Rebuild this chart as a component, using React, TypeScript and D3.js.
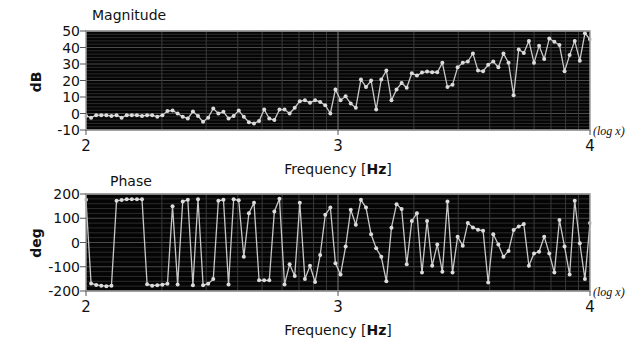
import React from "react";
import * as d3 from "d3";

// log10(frequency) sampling: 100 points evenly spaced from 2 to 4
const LOG_START = 2;
const LOG_END = 4;

const magnitudeDb = [
  -1.5, -2.5, -1, -1, -1, -1.5, -1, -2.5, -1, -1, -1, -1.5, -1, -1, -2, -1,
  1.5, 1.8, 0, -2, -3, 1.2, -1.5, -5, -2.5, 3, 0, 1, -3, -1.5, 1.8, -2, -5.3, -6, -4.5,
  2.4, -3, -4, 2.4, 2.4, 0, 3.5, 7.5, 8, 6.5,
  8, 7, 5, 0, 14.6, 8, 10.4, 6, 3.5, 20.6,
  16, 20, 2.4, 20.6, 26, 8, 14.6, 18.5, 15.6, 24.4,
  23, 24.8, 25.4, 25, 25, 30.7, 16, 17.5, 28, 30.7,
  31.5, 36.4, 26, 25.6, 29.5, 31.5, 28, 36.4, 30.7, 11,
  38.8, 36.6, 44, 30.7, 41, 33, 45.5, 43.5, 41.5, 25.6,
  35.4, 44, 32, 48.6, 45,
];

const phaseDeg = [
  176,
  -169, -175, -178, -180, -178,
  172, 175, 178, 178, 178, 178,
  -172, -178, -176, -174, -170,
  149, -173, 169, 176, -176, 178, -176, -170, -151, 172, 176, -173, 178, 174,
  -59, 121, 164,
  -156, -156, -156,
  128, 180, -173, -90, -138, 164, -151, -96, -163, -52,
  114, 144, -86, -132, -17, 135, 73, 176, 144, 34,
  -24, -59, -160, 61, 158, 138, -90, 89, 121, -124,
  89, -96, -8, -121, 169, -124, 24, -13, 80, 62,
  53, 48, -165, 34, -8, -59, -35, 52, 66, 76,
  -96, -45, -38, 24, -45, -124, 93, -17, -132, 172,
  -3, -151, 80,
];

const xTicks = [2, 3, 4];
const magTicks = [50, 40, 30, 20, 10, 0, -10];
const phaseTicks = [200, 100, 0, -100, -200];

const FONT = "DejaVu Sans, sans-serif";
const X0 = 86;
const X1 = 590;

const xScale = d3.scaleLinear().domain([LOG_START, LOG_END]).range([X0, X1]);

const logGrid: number[] = [];
for (let d = LOG_START; d < LOG_END; d++) {
  for (let k = 2; k <= 9; k++) logGrid.push(d + Math.log10(k));
}

type PanelProps = {
  title: string;
  titleX: number;
  titleY: number;
  top: number;
  bottom: number;
  ticks: number[];
  minorStep: number;
  ylabel: string;
  ylabelY: number;
  values: number[];
};

function Panel(p: PanelProps) {
  const dom = d3.extent(p.ticks) as [number, number];
  const y = d3.scaleLinear().domain(dom).range([p.bottom, p.top]);
  const n = p.values.length;
  const pts = p.values.map((v, i) => [
    LOG_START + ((LOG_END - LOG_START) * i) / (n - 1),
    v,
  ]);
  const line = d3
    .line<number[]>()
    .x((d) => xScale(d[0]))
    .y((d) => y(d[1]));
  const minor = d3.range(dom[0], dom[1] + 1e-9, p.minorStep).filter(
    (v) => !p.ticks.includes(v)
  );
  return (
    <g>
      <text x={p.titleX} y={p.titleY} fontFamily={FONT} fontSize={14} fill="#111">
        {p.title}
      </text>
      <rect x={X0} y={p.top} width={X1 - X0} height={p.bottom - p.top} fill="#050505" />
      {minor.map((v) => (
        <line key={"m" + v} x1={X0} x2={X1} y1={y(v)} y2={y(v)} stroke="#2c2c2c" strokeWidth={1} />
      ))}
      {p.ticks.map((v) => (
        <line key={"t" + v} x1={X0} x2={X1} y1={y(v)} y2={y(v)} stroke="#4a4a4a" strokeWidth={1.2} />
      ))}
      {logGrid.map((v) => (
        <line key={"g" + v} x1={xScale(v)} x2={xScale(v)} y1={p.top} y2={p.bottom} stroke="#3a3a3a" strokeWidth={1} />
      ))}
      <line x1={xScale(3)} x2={xScale(3)} y1={p.top} y2={p.bottom} stroke="#6a6a6a" strokeWidth={1.2} />
      <path d={line(pts) || ""} fill="none" stroke="#c8c8c8" strokeWidth={1.3} />
      {pts.map((d, i) => (
        <circle key={i} cx={xScale(d[0])} cy={y(d[1])} r={2} fill="#dcdcdc" />
      ))}
      <rect x={X0} y={p.top} width={X1 - X0} height={p.bottom - p.top} fill="none" stroke="#a0a0a0" strokeWidth={1.5} />
      {p.ticks.map((v) => (
        <g key={"l" + v}>
          <line x1={X0 - 6} x2={X0} y1={y(v)} y2={y(v)} stroke="#555" strokeWidth={1} />
          <text x={X0 - 6} y={y(v)} dy="0.36em" textAnchor="end" fontFamily={FONT} fontSize={14} fill="#111">
            {v}
          </text>
        </g>
      ))}
      {xTicks.map((v) => (
        <g key={"x" + v}>
          <line x1={xScale(v)} x2={xScale(v)} y1={p.bottom} y2={p.bottom + 5} stroke="#555" strokeWidth={1} />
          <text x={xScale(v)} y={p.bottom + 21} textAnchor="middle" fontFamily={FONT} fontSize={15} fill="#111">
            {v}
          </text>
        </g>
      ))}
      <text x={X1 + 3} y={p.bottom + 5} fontFamily="Liberation Serif, serif" fontStyle="italic" fontSize={12} fill="#111">
        (log x)
      </text>
      <text x={(X0 + X1) / 2} y={p.bottom + 44} textAnchor="middle" fontFamily={FONT} fontSize={14} fill="#111">
        Frequency  [<tspan fontWeight="bold">Hz</tspan>]
      </text>
      <text
        transform={`translate(41,${p.ylabelY}) rotate(-90)`}
        textAnchor="middle"
        fontFamily={FONT}
        fontSize={14}
        fontWeight="bold"
        fill="#111"
      >
        {p.ylabel}
      </text>
    </g>
  );
}

export default function App() {
  return (
    <svg
      width={640}
      height={340}
      style={{ position: "fixed", left: 0, top: 0, background: "#fff" }}
    >
      <Panel
        title="Magnitude"
        titleX={92}
        titleY={20}
        top={31}
        bottom={130}
        ticks={magTicks}
        minorStep={2}
        ylabel="dB"
        ylabelY={82}
        values={magnitudeDb}
      />
      <Panel
        title="Phase"
        titleX={110}
        titleY={186}
        top={194}
        bottom={291}
        ticks={phaseTicks}
        minorStep={20}
        ylabel="deg"
        ylabelY={243}
        values={phaseDeg}
      />
    </svg>
  );
}
